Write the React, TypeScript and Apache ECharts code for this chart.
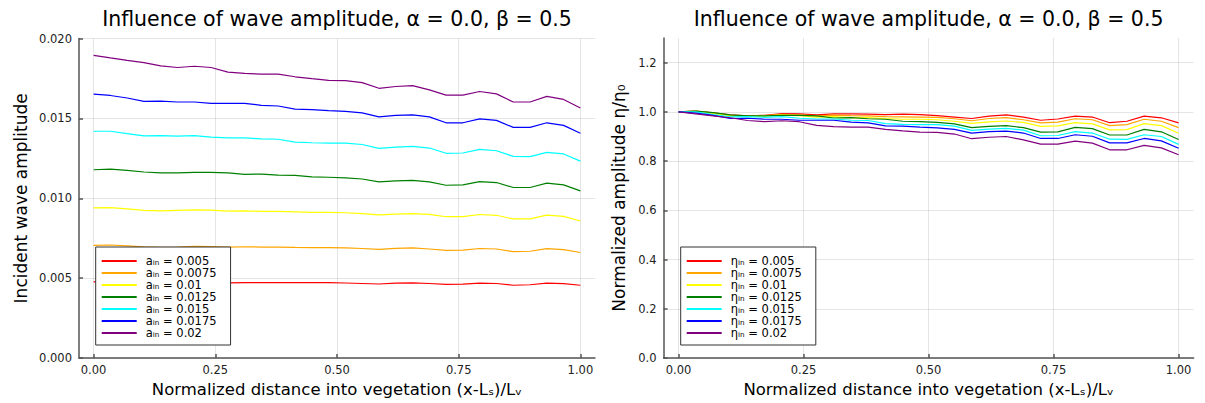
import React, { useEffect, useRef } from "react";
import * as echarts from "echarts";

// Normalized distance into vegetation (x-Ls)/Lv
const xPos = [0, 0.0345, 0.069, 0.1034, 0.1379, 0.1724, 0.2069, 0.2414, 0.2759, 0.3103, 0.3448, 0.3793, 0.4138, 0.4483, 0.4828, 0.5172, 0.5517, 0.5862, 0.6207, 0.6552, 0.6897, 0.7241, 0.7586, 0.7931, 0.8276, 0.8621, 0.8966, 0.931, 0.9655, 1];

const ampLabels = ["0.005", "0.0075", "0.01", "0.0125", "0.015", "0.0175", "0.02"];
const lineColors = ["#ff0000", "#ffa500", "#ffff00", "#008000", "#00ffff", "#0000ff", "#800080"];

// Left panel: incident wave amplitude
const amp005 = [0.00477, 0.00478, 0.00475, 0.00471, 0.00469, 0.0047, 0.00474, 0.00473, 0.00471, 0.00473, 0.00473, 0.00473, 0.00472, 0.00473, 0.00472, 0.0047, 0.00467, 0.00464, 0.00469, 0.00471, 0.00467, 0.00461, 0.00463, 0.00469, 0.00467, 0.00456, 0.00459, 0.00469, 0.00466, 0.00456];
const amp0075 = [0.00706, 0.00708, 0.00702, 0.00696, 0.00694, 0.00695, 0.00699, 0.00698, 0.00695, 0.00697, 0.00695, 0.00695, 0.00693, 0.00692, 0.00691, 0.0069, 0.00686, 0.00681, 0.00687, 0.0069, 0.00683, 0.00674, 0.00676, 0.00686, 0.00683, 0.00666, 0.00669, 0.00685, 0.00679, 0.00661];
const amp01 = [0.0094, 0.00942, 0.00934, 0.00925, 0.00922, 0.00925, 0.00928, 0.00926, 0.0092, 0.00922, 0.00918, 0.00918, 0.00915, 0.00912, 0.00912, 0.0091, 0.00904, 0.00896, 0.00901, 0.00905, 0.009, 0.00885, 0.00886, 0.00899, 0.00894, 0.00871, 0.00872, 0.00895, 0.00887, 0.00858];
const amp0125 = [0.01179, 0.01183, 0.01175, 0.01165, 0.0116, 0.0116, 0.01163, 0.01163, 0.0116, 0.0115, 0.01152, 0.01146, 0.01144, 0.01134, 0.01132, 0.01128, 0.01121, 0.01103, 0.01109, 0.01113, 0.01103, 0.01082, 0.01084, 0.01105, 0.01099, 0.01068, 0.01068, 0.01095, 0.01084, 0.01047];
const amp015 = [0.0142, 0.0142, 0.01405, 0.01391, 0.01393, 0.01389, 0.01393, 0.01383, 0.01379, 0.01379, 0.01372, 0.0137, 0.01352, 0.01348, 0.01346, 0.01346, 0.01337, 0.01313, 0.01321, 0.01325, 0.01315, 0.01282, 0.01284, 0.01307, 0.01298, 0.01263, 0.01261, 0.01288, 0.01278, 0.01233];
const amp0175 = [0.01652, 0.01644, 0.01628, 0.01607, 0.01609, 0.01603, 0.01603, 0.01595, 0.01595, 0.01595, 0.01582, 0.01578, 0.01558, 0.01556, 0.01549, 0.01545, 0.01535, 0.0151, 0.01519, 0.01523, 0.0151, 0.01473, 0.01473, 0.01498, 0.01488, 0.01444, 0.01444, 0.01473, 0.01457, 0.01407];
const amp02 = [0.01895, 0.01879, 0.01864, 0.0185, 0.01829, 0.01819, 0.01827, 0.01819, 0.0179, 0.01782, 0.01778, 0.01778, 0.01761, 0.01749, 0.01739, 0.01737, 0.01724, 0.01689, 0.017, 0.01706, 0.01679, 0.01646, 0.01646, 0.01669, 0.01654, 0.01603, 0.01603, 0.01638, 0.01619, 0.01566];

// Right panel: normalized amplitude eta/eta0
const norm005 = [1.0, 1.003, 0.996, 0.988, 0.984, 0.986, 0.993, 0.992, 0.988, 0.992, 0.992, 0.991, 0.989, 0.991, 0.989, 0.985, 0.979, 0.973, 0.983, 0.988, 0.979, 0.966, 0.971, 0.983, 0.979, 0.956, 0.962, 0.983, 0.976, 0.955];
const norm0075 = [1.0, 1.003, 0.995, 0.986, 0.983, 0.985, 0.99, 0.988, 0.984, 0.987, 0.985, 0.984, 0.981, 0.98, 0.979, 0.978, 0.972, 0.964, 0.973, 0.977, 0.968, 0.955, 0.958, 0.972, 0.968, 0.944, 0.948, 0.97, 0.962, 0.936];
const norm01 = [1.0, 1.002, 0.994, 0.984, 0.981, 0.984, 0.987, 0.985, 0.979, 0.981, 0.977, 0.977, 0.973, 0.97, 0.97, 0.968, 0.962, 0.953, 0.959, 0.963, 0.957, 0.941, 0.943, 0.956, 0.951, 0.927, 0.928, 0.952, 0.944, 0.913];
const norm0125 = [1.0, 1.003, 0.997, 0.988, 0.984, 0.984, 0.986, 0.986, 0.984, 0.975, 0.977, 0.972, 0.97, 0.962, 0.96, 0.957, 0.951, 0.936, 0.941, 0.944, 0.936, 0.918, 0.919, 0.937, 0.932, 0.906, 0.906, 0.929, 0.919, 0.888];
const norm015 = [1.0, 1.0, 0.989, 0.98, 0.981, 0.978, 0.981, 0.974, 0.971, 0.971, 0.966, 0.965, 0.952, 0.949, 0.948, 0.948, 0.942, 0.925, 0.93, 0.933, 0.926, 0.903, 0.904, 0.92, 0.914, 0.889, 0.888, 0.907, 0.9, 0.868];
const norm0175 = [1.0, 0.995, 0.986, 0.973, 0.974, 0.97, 0.97, 0.966, 0.966, 0.966, 0.958, 0.955, 0.943, 0.942, 0.938, 0.935, 0.929, 0.914, 0.92, 0.922, 0.914, 0.892, 0.892, 0.907, 0.901, 0.874, 0.874, 0.892, 0.882, 0.852];
const norm02 = [1.0, 0.992, 0.984, 0.976, 0.965, 0.96, 0.964, 0.96, 0.945, 0.94, 0.938, 0.938, 0.929, 0.923, 0.918, 0.917, 0.91, 0.891, 0.897, 0.9, 0.886, 0.869, 0.869, 0.881, 0.873, 0.846, 0.846, 0.864, 0.854, 0.826];

const ampSeries = [amp005, amp0075, amp01, amp0125, amp015, amp0175, amp02];
const normSeries = [norm005, norm0075, norm01, norm0125, norm015, norm0175, norm02];

const xTicks = [0, 0.25, 0.5, 0.75, 1];
const rightYTicks = [0, 0.2, 0.4, 0.6, 0.8, 1.0, 1.2];

const titleText = "Influence of wave amplitude, α = 0.0, β = 0.5";
const xName = "Normalized distance into vegetation (x-Lₛ)/Lᵥ";
const leftYName = "Incident wave amplitude";
const rightYName = "Normalized amplitude η/η₀";

const FONT = "DejaVu Sans";
const axisLineStyle = { color: "#555555", width: 1.5 };
const gridLineStyle = { color: "rgba(0,0,0,0.1)", width: 1 };

function makeXAxis(gridIndex: number) {
  return {
    type: "value",
    gridIndex,
    min: -0.03,
    max: 1.03,
    name: xName,
    nameLocation: "middle",
    nameGap: 21,
    nameTextStyle: { fontSize: 16.5, color: "#000", fontFamily: FONT },
    axisLine: { show: true, onZero: false, lineStyle: axisLineStyle },
    axisTick: { show: true, inside: true, length: 4, lineStyle: axisLineStyle, customValues: xTicks },
    axisLabel: {
      customValues: xTicks,
      formatter: (v: number) => v.toFixed(2),
      fontSize: 11.5,
      color: "#222",
      margin: 6,
      fontFamily: FONT,
    },
    splitLine: { show: true, lineStyle: gridLineStyle },
  };
}

export default function App() {
  const ref = useRef<HTMLDivElement>(null);

  useEffect(() => {
    if (!ref.current) return;
    const chart = echarts.init(ref.current, undefined, { renderer: "svg" });

    const series: any[] = [];
    ampSeries.forEach((arr, k) => {
      series.push({
        type: "line",
        name: "aᵢₙ = " + ampLabels[k],
        xAxisIndex: 0,
        yAxisIndex: 0,
        data: xPos.map((x, i) => [x, arr[i]]),
        symbol: "none",
        lineStyle: { color: lineColors[k], width: 1.2 },
        itemStyle: { color: lineColors[k] },
        z: 2,
      });
    });
    normSeries.forEach((arr, k) => {
      series.push({
        type: "line",
        name: "ηᵢₙ = " + ampLabels[k],
        xAxisIndex: 1,
        yAxisIndex: 1,
        data: xPos.map((x, i) => [x, arr[i]]),
        symbol: "none",
        lineStyle: { color: lineColors[k], width: 1.2 },
        itemStyle: { color: lineColors[k] },
        z: 2,
      });
    });

    const legendCommon = {
      orient: "vertical",
      top: 247,
      itemWidth: 35,
      itemHeight: 12.67,
      itemGap: 0,
      padding: [8, 14, 6, 5],
      backgroundColor: "#ffffff",
      borderColor: "#333333",
      borderWidth: 1,
      borderRadius: 0,
      itemStyle: { opacity: 0 },
      textStyle: { fontSize: 11.5, color: "#000", fontFamily: FONT, lineHeight: 12, padding: [0, 0, 0, 4] },
      selectedMode: false,
    };

    chart.setOption({
      animation: false,
      backgroundColor: "#ffffff",
      textStyle: { fontFamily: FONT },
      grid: [
        { left: 79, top: 38.6, width: 516, height: 323.4, containLabel: false },
        { left: 663.6, top: 38, width: 530, height: 324, containLabel: false },
      ],
      xAxis: [makeXAxis(0), makeXAxis(1)],
      yAxis: [
        {
          type: "value",
          gridIndex: 0,
          min: 0,
          max: 0.02,
          interval: 0.005,
          name: leftYName,
          nameLocation: "middle",
          nameGap: 50,
          nameTextStyle: { fontSize: 17, color: "#000", fontFamily: FONT },
          axisLine: { show: true, onZero: false, lineStyle: axisLineStyle },
          axisTick: { show: true, inside: true, length: 4, lineStyle: axisLineStyle },
          axisLabel: { formatter: (v: number) => v.toFixed(3), fontSize: 11.5, color: "#222", margin: 7, fontFamily: FONT },
          splitLine: { show: true, lineStyle: gridLineStyle },
        },
        {
          type: "value",
          gridIndex: 1,
          min: 0,
          max: 1.3,
          name: rightYName,
          nameLocation: "middle",
          nameGap: 36,
          nameTextStyle: { fontSize: 17, color: "#000", fontFamily: FONT },
          axisLine: { show: true, onZero: false, lineStyle: axisLineStyle },
          axisTick: { show: true, inside: true, length: 4, lineStyle: axisLineStyle, customValues: rightYTicks },
          axisLabel: {
            customValues: rightYTicks,
            formatter: (v: number) => v.toFixed(1),
            fontSize: 11.5,
            color: "#222",
            margin: 7,
            fontFamily: FONT,
          },
          splitLine: { show: true, lineStyle: gridLineStyle },
        },
      ],
      legend: [
        { ...legendCommon, left: 95.7, data: ampLabels.map((a) => "aᵢₙ = " + a) },
        { ...legendCommon, left: 680.7, data: ampLabels.map((a) => "ηᵢₙ = " + a) },
      ],
      graphic: [
        {
          type: "text",
          x: 337,
          y: 18.5,
          style: { text: titleText, fontSize: 20.5, fill: "#000", fontFamily: FONT, textAlign: "center", textVerticalAlign: "middle" },
        },
        {
          type: "text",
          x: 928.6,
          y: 18.5,
          style: { text: titleText, fontSize: 20.5, fill: "#000", fontFamily: FONT, textAlign: "center", textVerticalAlign: "middle" },
        },
      ],
      series,
    });

    return () => {
      chart.dispose();
    };
  }, []);

  return (
    <div
      ref={ref}
      style={{ position: "absolute", left: 0, top: 0, width: 1205, height: 403, background: "#fff" }}
    />
  );
}
